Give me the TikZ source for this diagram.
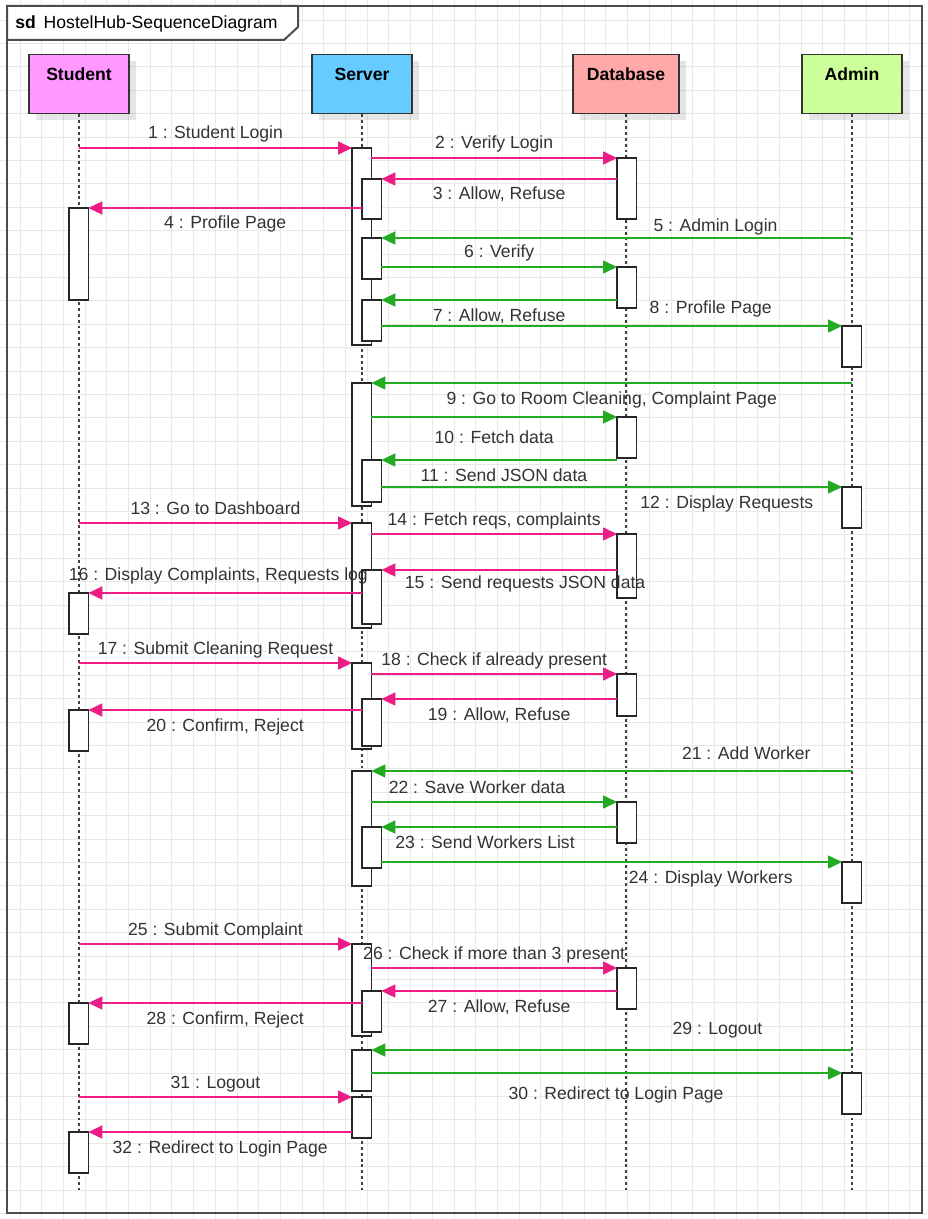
\documentclass[tikz,border=0pt]{standalone}
\usepackage{fontspec}
\setmainfont{Liberation Sans}
\usetikzlibrary{arrows.meta,shadows}
\definecolor{stucol}{HTML}{FF99FF}
\definecolor{srvcol}{HTML}{66CCFF}
\definecolor{dbcol}{HTML}{FFA8A8}
\definecolor{admcol}{HTML}{CCFF99}
\definecolor{pinkc}{HTML}{EC1E86}
\definecolor{greenc}{HTML}{22AA22}
\definecolor{txtc}{HTML}{333333}
\tikzset{
  head/.style={draw=black!80, line width=1pt, inner xsep=0pt, inner ysep=0pt,
    text height=19.5pt, text depth=24.75pt, minimum width=75pt,
    font=\fontsize{13.2}{15}\selectfont\bfseries,
    drop shadow={shadow xshift=5pt, shadow yshift=-5pt, fill=black, opacity=.1}},
  life/.style={draw=black!75, line width=1.1pt, dash pattern=on 2.2pt off 2.2pt},
  act/.style={draw=black!85, fill=white, line width=1pt, inner sep=0pt,
    outer sep=0pt, minimum width=14.5pt},
  pmsg/.style={draw=pinkc, line width=1.2pt, -{Triangle[length=10.5pt,width=9.75pt]}},
  gmsg/.style={draw=greenc, line width=1.2pt, -{Triangle[length=10.5pt,width=9.75pt]}},
  lbl/.style={font=\fontsize{13.2}{15}\selectfont, text=txtc, anchor=base, inner sep=0pt},
  mup/.style={lbl, yshift=6.75pt},
  mdn/.style={lbl, yshift=-15.75pt},
  gridl/.style={draw=black!9, line width=.75pt}
}
\begin{document}
\begin{tikzpicture}[x=0.75pt,y=-0.75pt]
\useasboundingbox (0,0) rectangle (927,1219);
\fill[white] (0,0) rectangle (927,1219);
\foreach \gx in {0,...,41} \draw[gridl] ({20+21.7*\gx},0) -- ({20+21.7*\gx},1219);
\foreach \gy in {0,...,51} \draw[gridl] (0,{20.1+23.4*\gy}) -- (927,{20.1+23.4*\gy});

\draw[line width=1.5pt, draw=black!70] (7,6) rectangle (922,1213);
\draw[line width=1.5pt, draw=black!70, fill=white] (7,6) -- (298,6) -- (298,27) -- (284,40) -- (7,40) -- cycle;
\node[lbl, anchor=base west, text=black] (title) at (15,29) {\textbf{sd}\hspace{.45em}HostelHub-SequenceDiagram};

\node[head, fill=stucol, anchor=north] (stu) at (79,54) {Student};
\node[head, fill=srvcol, anchor=north] (srv) at (362,54) {Server};
\node[head, fill=dbcol, anchor=north, minimum width=79.5pt] (db) at (626,54) {Database};
\node[head, fill=admcol, anchor=north] (adm) at (852,54) {Admin};

\foreach \h in {stu,srv,db,adm} \draw[life] (\h.south) -- (\h.south |- 0,1190);

\foreach \nm/\ax/\ya/\yb in {stuA1/69/208/300, stuA2/69/593/634, stuA3/69/710/751,
    stuA4/69/1003/1044, stuA5/69/1132/1173,
    srvA1/352/148/345, srvA2/352/383/506, srvA3/352/523/628, srvA4/352/663/749,
    srvA5/352/771/886, srvA6/352/944/1036, srvA7/352/1050/1091, srvA8/352/1097/1138,
    srvB1/362/179/219, srvB2/362/238/279, srvB3/362/300/341, srvB4/362/460/502,
    srvB5/362/570/624, srvB6/362/699/746, srvB7/362/827/868, srvB8/362/991/1032,
    dbA1/617/158/219, dbA2/617/267/308, dbA3/617/417/458, dbA4/617/534/598,
    dbA5/617/674/716, dbA6/617/802/843, dbA7/617/968/1009,
    admA1/842/326/367, admA2/842/487/528, admA3/842/862/903, admA4/842/1073/1114}
  \node[act, anchor=north west, minimum height={(\yb-\ya)*0.75pt}] (\nm) at (\ax,\ya) {};

\draw[pmsg] (stu.south |- srvA1.north) -- node[mup]{1 : Student Login} (srvA1.north west);
\draw[pmsg] (srvA1.east |- dbA1.north) -- node[mup]{2 : Verify Login} (dbA1.north west);
\draw[pmsg] (dbA1.west |- srvB1.north) -- node[mdn]{3 : Allow, Refuse} (srvB1.north east);
\draw[pmsg] (srvB1.west |- stuA1.north) -- node[mdn]{4 : Profile Page} (stuA1.north east);
\draw[gmsg] (adm.south |- srvB2.north) -- node[mup, pos=.29, yshift=-2.25pt]{5 : Admin Login} (srvB2.north east);
\draw[gmsg] (srvB2.east |- dbA2.north) -- node[mup]{6 : Verify} (dbA2.north west);
\draw[gmsg] (dbA2.west |- srvB3.north) -- node[mdn]{7 : Allow, Refuse} (srvB3.north east);
\draw[gmsg] (srvB3.east |- admA1.north) -- node[mup, pos=.715, yshift=2.25pt]{8 : Profile Page} (admA1.north west);
\draw[gmsg] (adm.south |- srvA2.north) -- node[mdn]{9 : Go to Room Cleaning, Complaint Page} (srvA2.north east);
\draw[gmsg] (srvA2.east |- dbA3.north) -- node[mdn, yshift=-3.75pt]{10 : Fetch data} (dbA3.north west);
\draw[gmsg] (dbA3.west |- srvB4.north) -- node[mdn, pos=.48]{11 : Send JSON data} (srvB4.north east);
\draw[gmsg] (srvB4.east |- admA2.north) -- node[mdn, pos=.75]{12 : Display Requests} (admA2.north west);
\draw[pmsg] (stu.south |- srvA3.north) -- node[mup]{13 : Go to Dashboard} (srvA3.north west);
\draw[pmsg] (srvA3.east |- dbA4.north) -- node[mup]{14 : Fetch reqs, complaints} (dbA4.north west);
\draw[pmsg] (dbA4.west |- srvB5.north) -- node[mdn, pos=.39, yshift=2.25pt]{15 : Send requests JSON data} (srvB5.north east);
\draw[pmsg] (srvB5.west |- stuA2.north) -- node[mup, pos=.525, yshift=3pt]{16 : Display Complaints, Requests log} (stuA2.north east);
\draw[pmsg] (stu.south |- srvA4.north) -- node[mup]{17 : Submit Cleaning Request} (srvA4.north west);
\draw[pmsg] (srvA4.east |- dbA5.north) -- node[mup]{18 : Check if already present} (dbA5.north west);
\draw[pmsg] (dbA5.west |- srvB6.north) -- node[mdn]{19 : Allow, Refuse} (srvB6.north east);
\draw[pmsg] (srvB6.west |- stuA3.north) -- node[mdn]{20 : Confirm, Reject} (stuA3.north east);
\draw[gmsg] (adm.south |- srvA5.north) -- node[mup, pos=.22, yshift=2.25pt]{21 : Add Worker} (srvA5.north east);
\draw[gmsg] (srvA5.east |- dbA6.north) -- node[mup, pos=.43]{22 : Save Worker data} (dbA6.north west);
\draw[gmsg] (dbA6.west |- srvB7.north) -- node[mdn, pos=.56]{23 : Send Workers List} (srvB7.north east);
\draw[gmsg] (srvB7.east |- admA3.north) -- node[mdn, pos=.715]{24 : Display Workers} (admA3.north west);
\draw[pmsg] (stu.south |- srvA6.north) -- node[mup]{25 : Submit Complaint} (srvA6.north west);
\draw[pmsg] (srvA6.east |- dbA7.north) -- node[mup]{26 : Check if more than 3 present} (dbA7.north west);
\draw[pmsg] (dbA7.west |- srvB8.north) -- node[mdn]{27 : Allow, Refuse} (srvB8.north east);
\draw[pmsg] (srvB8.west |- stuA4.north) -- node[mdn]{28 : Confirm, Reject} (stuA4.north east);
\draw[gmsg] (adm.south |- srvA7.north) -- node[mup, pos=.28, yshift=5.25pt]{29 : Logout} (srvA7.north east);
\draw[gmsg] (srvA7.east |- admA4.north) -- node[mdn, pos=.52, yshift=-3.75pt]{30 : Redirect to Login Page} (admA4.north west);
\draw[pmsg] (stu.south |- srvA8.north) -- node[mup]{31 : Logout} (srvA8.north west);
\draw[pmsg] (srvA8.west |- stuA5.north) -- node[mdn]{32 : Redirect to Login Page} (stuA5.north east);
\end{tikzpicture}
\end{document}
